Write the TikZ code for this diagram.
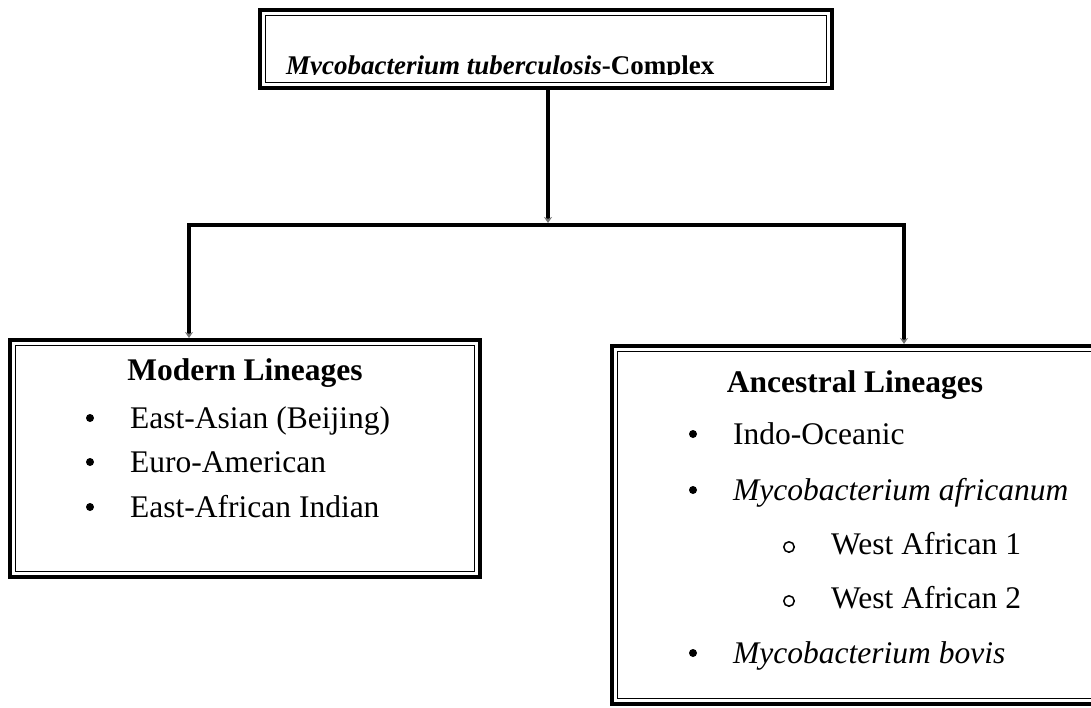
\documentclass[tikz,border=0pt]{standalone}
\usepackage{fontspec}
\setmainfont{Liberation Serif}
\usetikzlibrary{arrows.meta,calc}
\begin{document}
\begin{tikzpicture}[x=1pt,y=-1pt,
  frame/.style={draw, line width=4.3pt, inner sep=0pt, outer sep=0pt},
  innerrule/.style={line width=1.3pt},
  link/.style={line width=4.2pt, line join=miter},
  tip/.style={-{Stealth[length=6pt,width=8pt,color=black!55]}, shorten >=2pt},
  dot/.style={circle, fill, inner sep=0pt, minimum size=8pt},
  ring/.style={circle, draw, line width=1.5pt, inner sep=0pt, minimum size=10.5pt},
  head/.style={font=\fontsize{31.5}{36}\selectfont\bfseries, anchor=base, inner sep=0pt},
  entry/.style={font=\fontsize{31.5}{36}\selectfont, anchor=base west, inner sep=0pt},
]
\useasboundingbox (0,0) rectangle (1091,707);
\clip (0,0) rectangle (1091,707);

% --- top box: the complex ---
\node[frame, minimum width=572pt, minimum height=78pt] (mtbc) at (546,49) {};
\draw[innerrule] ($(mtbc.north west)+(5.5,5.5)$) rectangle ($(mtbc.south east)+(-5.5,-5.5)$);
\begin{scope}
  % the line sits on the lower rule, so its descenders are cut off
  \clip ($(mtbc.north west)+(4,4)$) rectangle ($(mtbc.south east)+(-4,-13.4)$);
  \node[anchor=base west, inner sep=0pt, font=\fontsize{27}{32}\selectfont\bfseries]
    (title) at (286,74) {\textit{Mycobacterium tuberculosis}-Complex};
\end{scope}

% --- lineage boxes ---
\node[frame, minimum width=470pt, minimum height=237pt] (modern) at (245,458.5) {};
\draw[innerrule] ($(modern.north west)+(5.5,5.5)$) rectangle ($(modern.south east)+(-5.5,-5.5)$);
\node[frame, minimum width=486pt, minimum height=358pt] (ancestral) at (855,525) {};
\draw[innerrule] ($(ancestral.north west)+(5.5,5.5)$) rectangle ($(ancestral.south east)+(-5.5,-5.5)$);

% --- connectors ---
\coordinate (split) at (548,225);
\coordinate (lbend) at (189,225);
\coordinate (rbend) at (904,225);
\draw[link,tip] (split |- mtbc.south) -- (split);
\draw[link,tip] (split) -- (lbend) -- (lbend |- modern.north);
\draw[link,tip] (split) -- (rbend) -- (rbend |- ancestral.north);

% --- modern lineages ---
\node[head] (modernhead) at (245,380) {Modern Lineages};
\node[entry] (m1) at (130,428) {East-Asian (Beijing)};
\node[entry] (m2) at (130,472) {Euro-American};
\node[entry] (m3) at (130,517) {East-African Indian};
\node[dot] (md1) at (90,418) {};
\node[dot] (md2) at (90,462) {};
\node[dot] (md3) at (90,507) {};

% --- ancestral lineages ---
\node[head] (anchead) at (855,392) {Ancestral Lineages};
\node[entry] (a1) at (733,444) {Indo-Oceanic};
\node[entry] (a2) at (733,500) {\textit{Mycobacterium africanum}};
\node[entry] (a3) at (831,554) {West African 1};
\node[entry] (a4) at (831,608) {West African 2};
\node[entry] (a5) at (733,663) {\textit{Mycobacterium bovis}};
\node[dot] (ad1) at (693,434) {};
\node[dot] (ad2) at (693,490) {};
\node[ring] (ar3) at (789,547) {};
\node[ring] (ar4) at (789,601) {};
\node[dot] (ad5) at (693,653) {};
\end{tikzpicture}
\end{document}
